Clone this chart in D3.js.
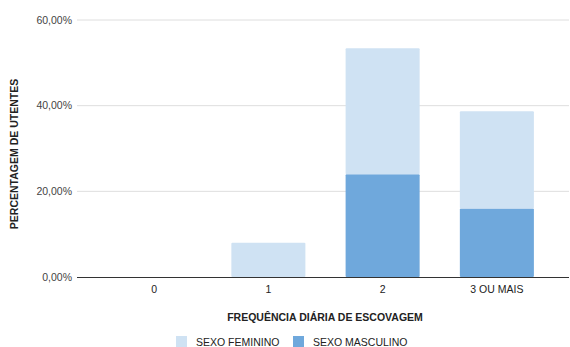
<!DOCTYPE html>
<html><head><meta charset="utf-8">
<script src="https://cdn.jsdelivr.net/npm/d3@7"></script>
<style>body{margin:0;background:#fff}svg{display:block;font-family:"Liberation Sans",Arial,sans-serif}</style>
</head><body><svg id="c" width="570" height="347"></svg>
<script>
const categories = ["0", "1", "2", "3 OU MAIS"];
const feminino = [0, 8.0, 29.4, 22.7];
const masculino = [0, 0, 24.0, 16.0];
const yTicks = [0, 20, 40, 60];
const seriesNames = ["SEXO FEMININO", "SEXO MASCULINO"];
const colors = ["#cfe2f3", "#6fa8dc"];

const svg = d3.select("#c");
const y = d3.scaleLinear().domain([0, 60]).range([277, 20]);
const x = d3.scaleBand().domain(categories).range([97, 554]).paddingInner(0.352).paddingOuter(0.176);

const rows = categories.map((c, i) => ({cat: c, masc: masculino[i], fem: feminino[i]}));
const stack = d3.stack().keys(["masc", "fem"])(rows);

// gridlines
svg.append("g").selectAll("line").data(yTicks.filter(d => d > 0)).join("line")
  .attr("x1", 77).attr("x2", 569).attr("y1", d => y(d)).attr("y2", d => y(d))
  .attr("stroke", "#dedede").attr("stroke-width", 1);

// tick labels
const fmt = d => d.toFixed(2).replace(".", ",") + "%";
svg.append("g").selectAll("text").data(yTicks).join("text")
  .attr("x", 72).attr("y", d => y(d) + 3.6).attr("text-anchor", "end")
  .attr("font-size", 10.5).attr("fill", "#444").text(fmt);

// bars
const colorByKey = {masc: colors[1], fem: colors[0]};
svg.append("g").selectAll("g").data(stack).join("g")
  .attr("fill", d => colorByKey[d.key])
  .selectAll("rect").data(d => d.filter(s => s[1] - s[0] > 0)).join("rect")
  .attr("x", d => x(d.data.cat)).attr("width", x.bandwidth())
  .attr("y", d => y(d[1])).attr("height", d => y(d[0]) - y(d[1]))
  .attr("rx", 1);

// baseline
svg.append("line").attr("x1", 77).attr("x2", 569).attr("y1", y(0) + 0.5).attr("y2", y(0) + 0.5)
  .attr("stroke", "#333").attr("stroke-width", 1);

// x labels
svg.append("g").selectAll("text").data(categories).join("text")
  .attr("x", d => x(d) + x.bandwidth() / 2).attr("y", 293).attr("text-anchor", "middle")
  .attr("font-size", 10.5).attr("fill", "#222").text(d => d);

// axis titles
svg.append("text").attr("x", 325).attr("y", 321).attr("text-anchor", "middle")
  .attr("font-size", 10.5).attr("font-weight", "bold").attr("fill", "#222")
  .text("FREQUÊNCIA DIÁRIA DE ESCOVAGEM");
svg.append("text").attr("transform", "translate(18,154) rotate(-90)").attr("text-anchor", "middle")
  .attr("font-size", 10.5).attr("font-weight", "bold").attr("fill", "#222")
  .text("PERCENTAGEM DE UTENTES");

// legend
const legX = [176, 293];
const lg = svg.append("g").selectAll("g").data(seriesNames).join("g")
  .attr("transform", (d, i) => `translate(${legX[i]},336)`);
lg.append("rect").attr("width", 11).attr("height", 11).attr("fill", (d, i) => colors[i]);
lg.append("text").attr("x", 20).attr("y", 9.5).attr("font-size", 10.5).attr("fill", "#222").text(d => d);
</script></body></html>
